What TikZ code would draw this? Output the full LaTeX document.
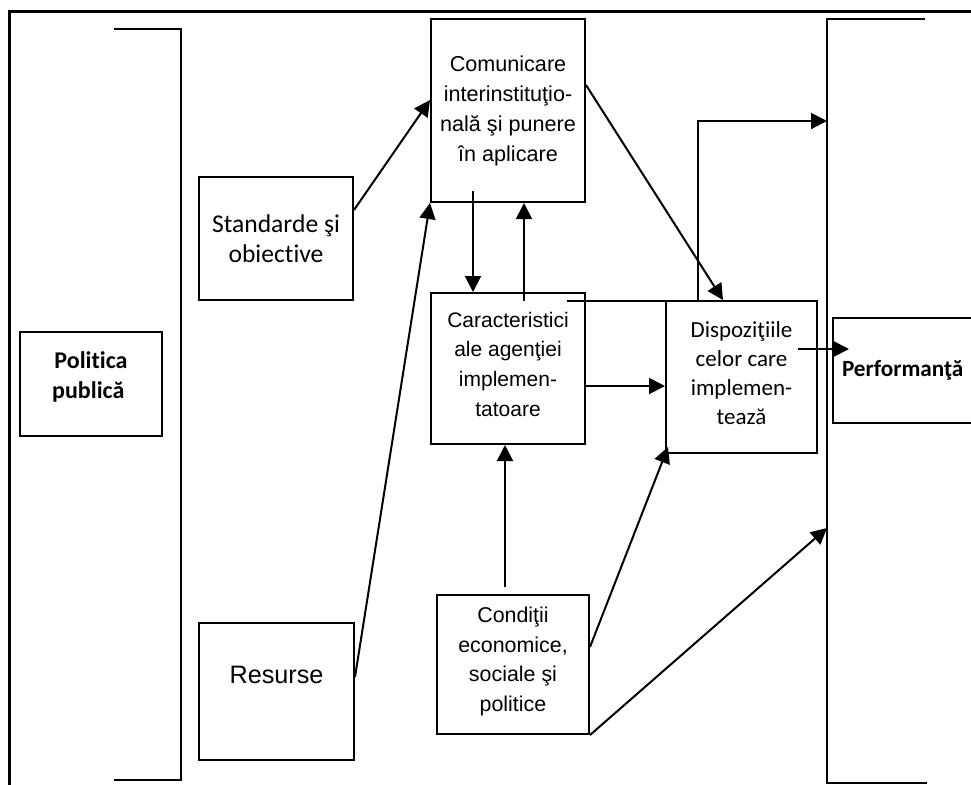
\documentclass[tikz,border=0pt]{standalone}
\usepackage{fontspec}
\setmainfont{Liberation Sans}
\newfontfamily\calib[Ligatures=NoCommon]{Carlito}
\usetikzlibrary{arrows.meta}
\newcommand{\pushup}[1]{\rule[-#1]{0pt}{#1}}
\tikzset{
  box/.style={draw, line width=1pt, align=center, inner sep=0pt},
  arr/.style={line width=1pt, -{Triangle[length=8pt,width=8pt]}},
  bracket/.style={line width=1.1pt},
}

\begin{document}
\begin{tikzpicture}[x=0.5pt, y=-0.5pt]
  \useasboundingbox (0,0) rectangle (971,784);
  \clip (0,0) rectangle (971,784);
  % outer frame, cut off at right and bottom
  \draw[line width=1.5pt] (9,800) -- (9,11) -- (990,11);
  % brackets
  \coordinate (brtop) at (827,19);
  \coordinate (brbot) at (827,783);
  \draw[bracket] (114,29) -- (181,29) -- (181,780) -- (114,780);
  \draw[bracket] (925,19) -- (brtop) -- (brbot) -- (927,783);

  \node[box, minimum width=71pt, minimum height=52pt, font=\calib\bfseries\fontsize{12}{15}\selectfont] (politica) at (91,384) {Politica\\publică \pushup{9pt}};
  \node[box, minimum width=77pt, minimum height=61.5pt, font=\calib\fontsize{12.8}{15}\selectfont] (standard) at (276,238.5) {Standarde şi\\obiective};
  \node[box, minimum width=77.5pt, minimum height=68.5pt, font=\fontsize{12.6}{15}\selectfont] (resurse) at (276.5,691.5) {Resurse\pushup{16.5pt}};
  \node[box, minimum width=77pt, minimum height=91.5pt, font=\fontsize{10.8}{15}\selectfont] (comunic) at (508,110.5) {Comunicare\\interinstituţio-\\nală şi punere\\în aplicare};
  \node[box, minimum width=77pt, minimum height=75.5pt, font=\fontsize{10.5}{14.8}\selectfont] (caract) at (508,368.5) {Caracteristici\\ale agenţiei\\implemen-\\tatoare\pushup{4.5pt}};
  \node[box, minimum width=76pt, minimum height=69.5pt, font=\fontsize{10.7}{14.75}\selectfont] (conditii) at (513,664.5) {Condiţii\\economice,\\sociale şi\\politice\pushup{5.5pt}};
  \node[box, minimum width=75.5pt, minimum height=76pt, font=\calib\fontsize{11.5}{14.5}\selectfont] (dispoz) at (741.5,377) {Dispoziţiile\\celor care\\implemen-\\tează\pushup{3.5pt}};
  \node[box, align=left, text width=74.5pt, inner xsep=4.5pt, minimum height=52.5pt, font=\calib\bfseries\fontsize{11.6}{14}\selectfont] (perform) at (916.5,370.5) {Performanţă};

  \draw[arr] ([yshift=14.25pt]standard.east) -- ([yshift=5.25pt]comunic.west);
  \draw[arr] ([yshift=7.25pt]resurse.east) -- (comunic.south west);
  \draw[arr] ([xshift=-17.5pt,yshift=6pt]comunic.south) -- ([xshift=-17.5pt]caract.north);
  \draw[arr] ([xshift=8pt,yshift=-4.5pt]caract.north) -- ([xshift=8pt]comunic.south);
  \draw[arr] ([yshift=12.75pt]comunic.east) -- ([xshift=-9.25pt]dispoz.north);
  \draw[arr] ([xshift=-9.5pt,yshift=-4.5pt]caract.north east) -- ++(131,0) |- ([yshift=-51pt]brtop);
  \draw[arr] ([yshift=-8.75pt]caract.east) -- ([yshift=-4.5pt]dispoz.west);
  \draw[arr] ([xshift=-4pt,yshift=3.5pt]conditii.north) -- ([xshift=-1.5pt]caract.south);
  \draw[arr] ([yshift=8.75pt]conditii.east) -- ([xshift=1.5pt,yshift=3.5pt]dispoz.south west);
  \draw[arr] (conditii.south east) -- ([yshift=127.5pt]brbot);
  \draw[arr] ([xshift=-10pt,yshift=14pt]dispoz.east) -- ([xshift=8.5pt,yshift=10.75pt]perform.west);
\end{tikzpicture}
\end{document}
